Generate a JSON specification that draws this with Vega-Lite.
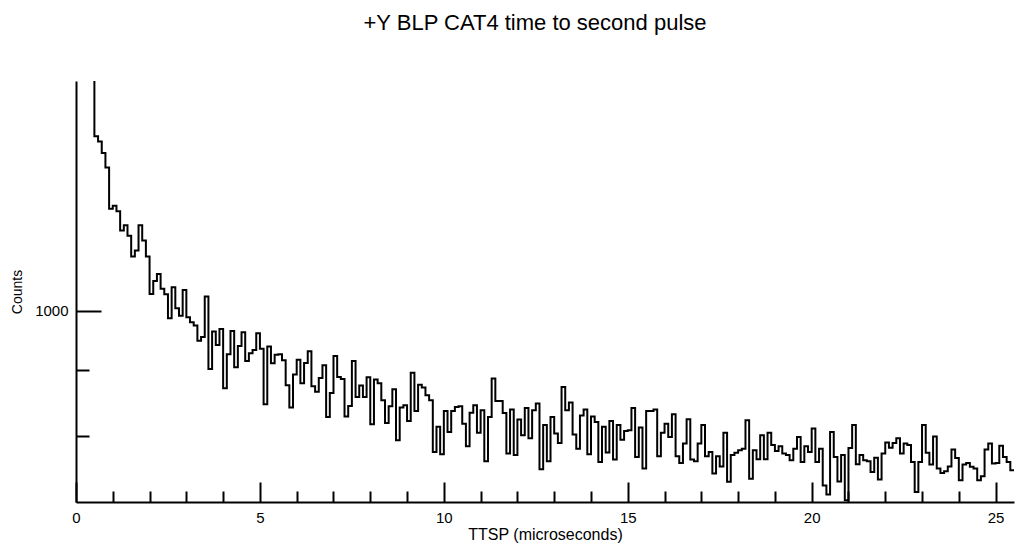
{
  "$schema": "https://vega.github.io/schema/vega-lite/v6.json",
  "width": 938,
  "height": 421,
  "autosize": {"type": "none"},
  "padding": {"left": 76, "top": 81, "right": 2, "bottom": 46},
  "background": "white",
  "title": {"text": "+Y BLP CAT4 time to second pulse", "font": "Liberation Sans", "fontSize": 22, "fontWeight": "normal", "color": "black", "anchor": "middle", "offset": 46, "dx": -10},
  "config": {
    "view": {"stroke": null},
    "axis": {"domainColor": "black", "domainWidth": 2, "tickColor": "black", "tickWidth": 2, "labelFont": "Liberation Sans", "labelColor": "black", "titleFont": "Liberation Sans", "titleColor": "black", "titleFontWeight": "normal", "grid": false, "labelOverlap": false, "labelFlush": false}
  },
  "data": {"values": [
    {"t": 0.4, "n": 2400}, {"t": 0.5, "n": 1728}, {"t": 0.6, "n": 1704}, {"t": 0.7, "n": 1650}, {"t": 0.8, "n": 1584}, {"t": 0.9, "n": 1402},
    {"t": 1.0, "n": 1415}, {"t": 1.1, "n": 1391}, {"t": 1.2, "n": 1311}, {"t": 1.3, "n": 1333}, {"t": 1.4, "n": 1289}, {"t": 1.5, "n": 1206}, {"t": 1.6, "n": 1230}, {"t": 1.7, "n": 1332}, {"t": 1.8, "n": 1270}, {"t": 1.9, "n": 1206},
    {"t": 2.0, "n": 1062}, {"t": 2.1, "n": 1111}, {"t": 2.2, "n": 1137}, {"t": 2.3, "n": 1081}, {"t": 2.4, "n": 1061}, {"t": 2.5, "n": 974}, {"t": 2.6, "n": 1087}, {"t": 2.7, "n": 1010}, {"t": 2.8, "n": 983}, {"t": 2.9, "n": 1077},
    {"t": 3.0, "n": 977}, {"t": 3.1, "n": 960}, {"t": 3.2, "n": 948}, {"t": 3.3, "n": 895}, {"t": 3.4, "n": 908}, {"t": 3.5, "n": 1053}, {"t": 3.6, "n": 802}, {"t": 3.7, "n": 927}, {"t": 3.8, "n": 881}, {"t": 3.9, "n": 936},
    {"t": 4.0, "n": 741}, {"t": 4.1, "n": 850}, {"t": 4.2, "n": 929}, {"t": 4.3, "n": 807}, {"t": 4.4, "n": 878}, {"t": 4.5, "n": 925}, {"t": 4.6, "n": 828}, {"t": 4.7, "n": 853}, {"t": 4.8, "n": 864}, {"t": 4.9, "n": 921},
    {"t": 5.0, "n": 868}, {"t": 5.1, "n": 692}, {"t": 5.2, "n": 876}, {"t": 5.3, "n": 820}, {"t": 5.4, "n": 848}, {"t": 5.5, "n": 850}, {"t": 5.6, "n": 830}, {"t": 5.7, "n": 750}, {"t": 5.8, "n": 682}, {"t": 5.9, "n": 784},
    {"t": 6.0, "n": 832}, {"t": 6.1, "n": 756}, {"t": 6.2, "n": 821}, {"t": 6.3, "n": 860}, {"t": 6.4, "n": 747}, {"t": 6.5, "n": 730}, {"t": 6.6, "n": 773}, {"t": 6.7, "n": 814}, {"t": 6.8, "n": 654}, {"t": 6.9, "n": 726},
    {"t": 7.0, "n": 844}, {"t": 7.1, "n": 776}, {"t": 7.2, "n": 770}, {"t": 7.3, "n": 656}, {"t": 7.4, "n": 687}, {"t": 7.5, "n": 828}, {"t": 7.6, "n": 714}, {"t": 7.7, "n": 749}, {"t": 7.8, "n": 714}, {"t": 7.9, "n": 775},
    {"t": 8.0, "n": 633}, {"t": 8.1, "n": 768}, {"t": 8.2, "n": 756}, {"t": 8.3, "n": 704}, {"t": 8.4, "n": 637}, {"t": 8.5, "n": 686}, {"t": 8.6, "n": 738}, {"t": 8.7, "n": 588}, {"t": 8.8, "n": 682}, {"t": 8.9, "n": 689},
    {"t": 9.0, "n": 643}, {"t": 9.1, "n": 790}, {"t": 9.2, "n": 672}, {"t": 9.3, "n": 752}, {"t": 9.4, "n": 743}, {"t": 9.5, "n": 719}, {"t": 9.6, "n": 704}, {"t": 9.7, "n": 556}, {"t": 9.8, "n": 626}, {"t": 9.9, "n": 550},
    {"t": 10.0, "n": 672}, {"t": 10.1, "n": 611}, {"t": 10.2, "n": 672}, {"t": 10.3, "n": 684}, {"t": 10.4, "n": 686}, {"t": 10.5, "n": 635}, {"t": 10.6, "n": 572}, {"t": 10.7, "n": 667}, {"t": 10.8, "n": 689}, {"t": 10.9, "n": 609},
    {"t": 11.0, "n": 674}, {"t": 11.1, "n": 532}, {"t": 11.2, "n": 654}, {"t": 11.3, "n": 771}, {"t": 11.4, "n": 702}, {"t": 11.5, "n": 702}, {"t": 11.6, "n": 666}, {"t": 11.7, "n": 552}, {"t": 11.8, "n": 676}, {"t": 11.9, "n": 548},
    {"t": 12.0, "n": 647}, {"t": 12.1, "n": 602}, {"t": 12.2, "n": 681}, {"t": 12.3, "n": 594}, {"t": 12.4, "n": 674}, {"t": 12.5, "n": 694}, {"t": 12.6, "n": 511}, {"t": 12.7, "n": 631}, {"t": 12.8, "n": 532}, {"t": 12.9, "n": 654},
    {"t": 13.0, "n": 607}, {"t": 13.1, "n": 581}, {"t": 13.2, "n": 745}, {"t": 13.3, "n": 674}, {"t": 13.4, "n": 697}, {"t": 13.5, "n": 604}, {"t": 13.6, "n": 565}, {"t": 13.7, "n": 659}, {"t": 13.8, "n": 676}, {"t": 13.9, "n": 550},
    {"t": 14.0, "n": 656}, {"t": 14.1, "n": 640}, {"t": 14.2, "n": 530}, {"t": 14.3, "n": 626}, {"t": 14.4, "n": 555}, {"t": 14.5, "n": 643}, {"t": 14.6, "n": 536}, {"t": 14.7, "n": 631}, {"t": 14.8, "n": 590}, {"t": 14.9, "n": 614},
    {"t": 15.0, "n": 616}, {"t": 15.1, "n": 681}, {"t": 15.2, "n": 543}, {"t": 15.3, "n": 624}, {"t": 15.4, "n": 513}, {"t": 15.5, "n": 672}, {"t": 15.6, "n": 672}, {"t": 15.7, "n": 676}, {"t": 15.8, "n": 545}, {"t": 15.9, "n": 609},
    {"t": 16.0, "n": 635}, {"t": 16.1, "n": 597}, {"t": 16.2, "n": 662}, {"t": 16.3, "n": 545}, {"t": 16.4, "n": 527}, {"t": 16.5, "n": 579}, {"t": 16.6, "n": 648}, {"t": 16.7, "n": 536}, {"t": 16.8, "n": 532}, {"t": 16.9, "n": 579},
    {"t": 17.0, "n": 631}, {"t": 17.1, "n": 545}, {"t": 17.2, "n": 556}, {"t": 17.3, "n": 500}, {"t": 17.4, "n": 545}, {"t": 17.5, "n": 518}, {"t": 17.6, "n": 609}, {"t": 17.7, "n": 479}, {"t": 17.8, "n": 548}, {"t": 17.9, "n": 554},
    {"t": 18.0, "n": 561}, {"t": 18.1, "n": 565}, {"t": 18.2, "n": 645}, {"t": 18.3, "n": 487}, {"t": 18.4, "n": 561}, {"t": 18.5, "n": 537}, {"t": 18.6, "n": 602}, {"t": 18.7, "n": 537}, {"t": 18.8, "n": 609}, {"t": 18.9, "n": 575},
    {"t": 19.0, "n": 559}, {"t": 19.1, "n": 572}, {"t": 19.2, "n": 552}, {"t": 19.3, "n": 548}, {"t": 19.4, "n": 534}, {"t": 19.5, "n": 565}, {"t": 19.6, "n": 597}, {"t": 19.7, "n": 530}, {"t": 19.8, "n": 572}, {"t": 19.9, "n": 556},
    {"t": 20.0, "n": 621}, {"t": 20.1, "n": 530}, {"t": 20.2, "n": 565}, {"t": 20.3, "n": 470}, {"t": 20.4, "n": 448}, {"t": 20.5, "n": 611}, {"t": 20.6, "n": 543}, {"t": 20.7, "n": 480}, {"t": 20.8, "n": 548}, {"t": 20.9, "n": 434},
    {"t": 21.0, "n": 567}, {"t": 21.1, "n": 631}, {"t": 21.2, "n": 524}, {"t": 21.3, "n": 548}, {"t": 21.4, "n": 534}, {"t": 21.5, "n": 532}, {"t": 21.6, "n": 504}, {"t": 21.7, "n": 541}, {"t": 21.8, "n": 485}, {"t": 21.9, "n": 552},
    {"t": 22.0, "n": 582}, {"t": 22.1, "n": 568}, {"t": 22.2, "n": 581}, {"t": 22.3, "n": 594}, {"t": 22.4, "n": 552}, {"t": 22.5, "n": 579}, {"t": 22.6, "n": 575}, {"t": 22.7, "n": 530}, {"t": 22.8, "n": 454}, {"t": 22.9, "n": 530},
    {"t": 23.0, "n": 631}, {"t": 23.1, "n": 554}, {"t": 23.2, "n": 523}, {"t": 23.3, "n": 599}, {"t": 23.4, "n": 513}, {"t": 23.5, "n": 501}, {"t": 23.6, "n": 506}, {"t": 23.7, "n": 518}, {"t": 23.8, "n": 563}, {"t": 23.9, "n": 540},
    {"t": 24.0, "n": 483}, {"t": 24.1, "n": 523}, {"t": 24.2, "n": 527}, {"t": 24.3, "n": 517}, {"t": 24.4, "n": 513}, {"t": 24.5, "n": 483}, {"t": 24.6, "n": 493}, {"t": 24.7, "n": 563}, {"t": 24.8, "n": 579}, {"t": 24.9, "n": 526},
    {"t": 25.0, "n": 527}, {"t": 25.1, "n": 573}, {"t": 25.2, "n": 543}, {"t": 25.3, "n": 530}, {"t": 25.4, "n": 508}, {"t": 25.5, "n": 508}
  ]},
  "mark": {"type": "line", "interpolate": "step-after", "color": "black", "strokeWidth": 2, "clip": true},
  "encoding": {
    "x": {
      "field": "t", "type": "quantitative",
      "scale": {"domain": [0, 25.5], "nice": false, "zero": false},
      "axis": {
        "title": "TTSP (microseconds)", "titleFontSize": 16, "labelFontSize": 15,
        "values": [0,1,2,3,4,5,6,7,8,9,10,11,12,13,14,15,16,17,18,19,20,21,22,23,24,25],
        "labelExpr": "datum.value % 5 === 0 ? datum.label : ''",
        "tickSize": {"condition": {"test": "datum.value % 5 === 0", "value": -20}, "value": -11},
        "labelPadding": 28, "titlePadding": -8
      }
    },
    "y": {
      "field": "n", "type": "quantitative",
      "scale": {"type": "sqrt", "domain": [430, 2000], "nice": false, "zero": false},
      "axis": {
        "title": "Counts", "titleFontSize": 14, "labelFontSize": 15,
        "values": [600, 800, 1000],
        "labelExpr": "datum.value === 1000 ? '1000' : ''",
        "tickSize": {"condition": {"test": "datum.value === 1000", "value": -25}, "value": -13},
        "labelPadding": 33, "titlePadding": 10
      }
    }
  }
}
